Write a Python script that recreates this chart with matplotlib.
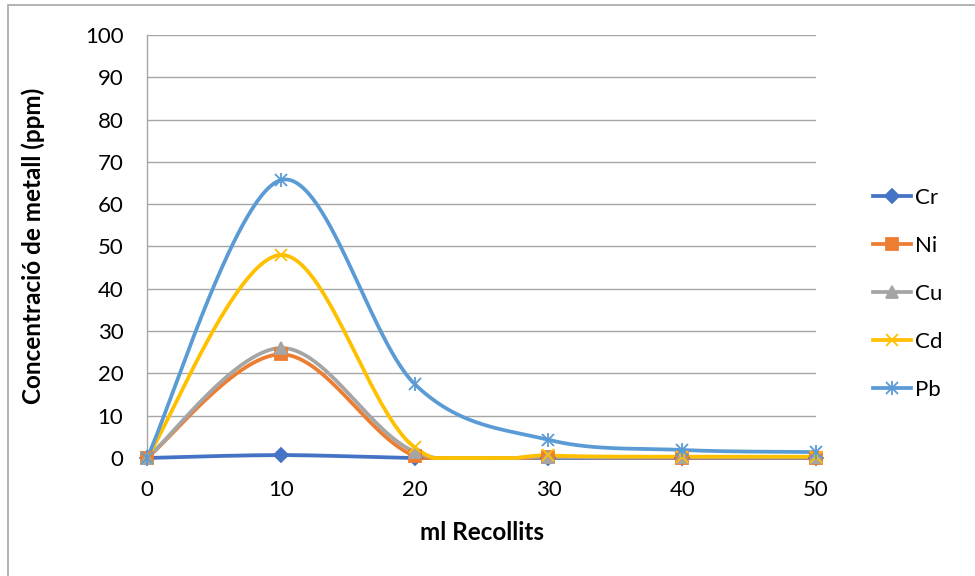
import numpy as np
import matplotlib
matplotlib.use('Agg')
import matplotlib.pyplot as plt
from matplotlib.lines import Line2D
from matplotlib.patches import Rectangle

plt.rcParams['font.family'] = ['Lato', 'DejaVu Sans']

ml = [0, 10, 20, 30, 40, 50]
cr = [0, 0.7, 0, 0, 0, 0]
ni = [0, 24.5, 0.5, 0.2, 0.1, 0.1]
cu = [0, 26, 1.5, 0.3, 0.2, 0.2]
cd = [0, 48, 2.5, 0.6, 0.3, 0.3]
pb = [0, 65.7, 17.5, 4.3, 1.9, 1.4]

names = ['Cr', 'Ni', 'Cu', 'Cd', 'Pb']
series = [cr, ni, cu, cd, pb]
colors = ['#4472C4', '#ED7D31', '#A5A5A5', '#FFC000', '#5B9BD5']
markers = ['D', 's', '^', 'x', 'x']
msizes = [7, 8.5, 8.5, 9, 9]


def smooth(xs, ys, n=60):
    # cubic bezier through the points, Catmull-Rom style control points
    p = np.column_stack([xs, ys]).astype(float)
    pts = []
    for i in range(len(p) - 1):
        p0 = p[max(i - 1, 0)]
        p1 = p[i]
        p2 = p[i + 1]
        p3 = p[min(i + 2, len(p) - 1)]
        b1 = p1 + (p2 - p0) / 6
        b2 = p2 - (p3 - p1) / 6
        t = np.linspace(0, 1, n)[:, None]
        seg = ((1 - t) ** 3 * p1 + 3 * (1 - t) ** 2 * t * b1
               + 3 * (1 - t) * t ** 2 * b2 + t ** 3 * p2)
        pts.append(seg if i == 0 else seg[1:])
    c = np.vstack(pts)
    return c[:, 0], np.maximum(c[:, 1], 0)


fig = plt.figure(figsize=(9.75, 5.76), dpi=100)
ax = fig.add_axes([147 / 975, 1 - 458 / 576, (816 - 147) / 975, (458 - 35) / 576])

lw = 2.7
for ys, col, mk, ms in zip(series, colors, markers, msizes):
    sx, sy = smooth(ml, ys)
    ax.plot(sx, sy, color=col, lw=lw, clip_on=False, zorder=3, solid_capstyle='round')
    ax.plot(ml, ys, ls='none', marker=mk, ms=ms, color=col, mew=1.3, clip_on=False, zorder=4)
# Pb marker is a star: x with a vertical stroke
ax.plot(ml, pb, ls='none', marker='|', ms=10, color=colors[4], mew=1.3, clip_on=False, zorder=4)

ax.set_xlim(0, 50)
ax.set_ylim(0, 100)
ax.set_xticks(ml)
ax.set_yticks(range(0, 101, 10))
ax.tick_params(length=0, labelsize=16, colors='black')
ax.tick_params(axis='y', pad=17)
ax.tick_params(axis='x', pad=16)
ax.grid(axis='y', color='#A6A6A6', lw=1)
ax.set_axisbelow(True)
for s in ['top', 'right', 'bottom']:
    ax.spines[s].set_visible(False)
ax.spines['left'].set_color('#A6A6A6')
ax.spines['left'].set_linewidth(1)

ax.set_xlabel('ml Recollits', fontsize=17.5, fontweight='bold', va='center')
ax.set_ylabel('Concentració de metall (ppm)', fontsize=17.5, fontweight='bold', va='center')
ax.xaxis.set_label_coords(0.5, (458 - 533) / 423)
ax.yaxis.set_label_coords((33 - 147) / 669, (458 - 246) / 423)

handles = []
for col, mk, ms in zip(colors, markers, msizes):
    handles.append(Line2D([], [], color=col, lw=lw, marker=mk, ms=ms, mew=1.3))
handles[4] = (Line2D([], [], color=colors[4], lw=lw, marker='x', ms=9, mew=1.3),
              Line2D([], [], ls='none', color=colors[4], marker='|', ms=10, mew=1.3))
fig.legend(handles, names, loc='upper left', bbox_to_anchor=(862 / 975, 1 - 177 / 576),
           frameon=False, fontsize=16, handlelength=1.7, handletextpad=0.2,
           labelspacing=1.26, borderpad=0)

fig.patches.append(Rectangle((8 / 975, -0.1), 1.2, 1.1 - 5 / 576, transform=fig.transFigure,
                             fill=False, ec='#A6A6A6', lw=1.2))

fig.savefig('out.png', dpi=100, facecolor='white')
